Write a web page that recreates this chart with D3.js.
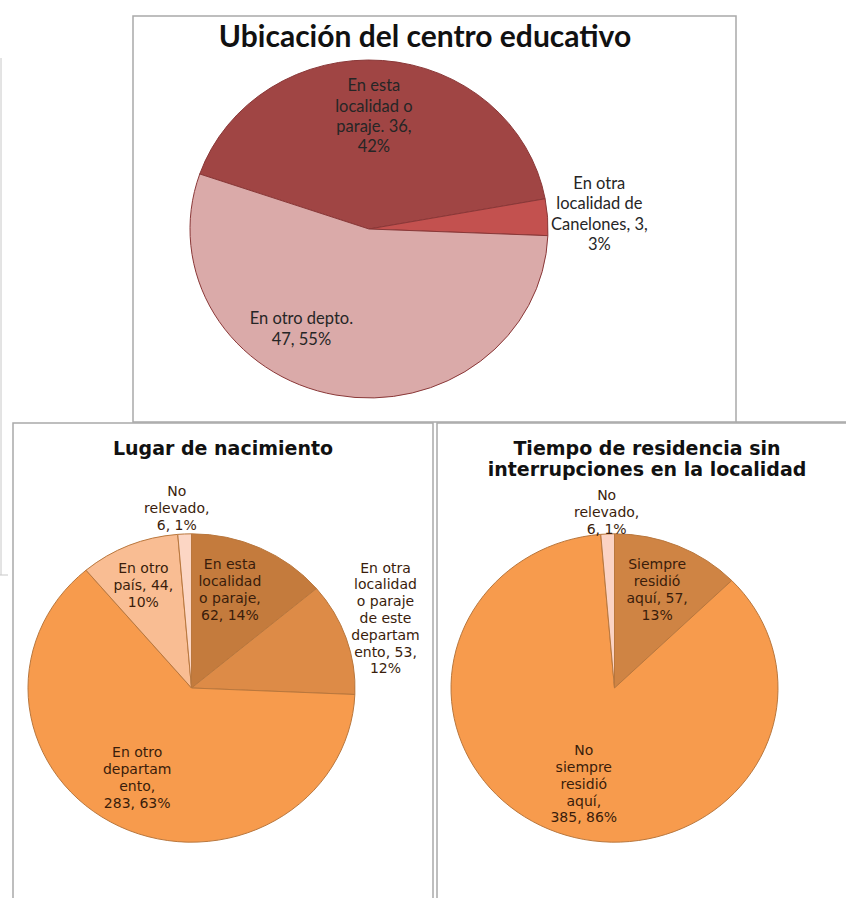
<!DOCTYPE html>
<html>
<head>
<meta charset="utf-8">
<style>
    body { margin: 0; background: #fff; }
    .marco { fill: none; stroke: #a9a9a9; stroke-width: 1.5; }
    .marco_fino { fill: none; stroke: #c8c8c8; stroke-width: 1; }
    .titulo { font-weight: bold; text-anchor: middle; fill: #111; }
    .etiqueta { text-anchor: middle; }
</style>
</head>
<body>
<div id="plateau"></div>
<script src="https://cdn.jsdelivr.net/npm/d3@7/dist/d3.min.js"></script>
<script>

//////////////////// datos ////////////////////
// Ubicación del centro educativo
const ubic_cats = ["En esta localidad o paraje", "En otra localidad de Canelones", "En otro depto."];
const ubic_vals = [36, 3, 47];
const ubic_lineas = [
    ["En esta", "localidad o", "paraje. {v},", "{p}"],
    ["En otra", "localidad de", "Canelones, {v},", "{p}"],
    ["En otro depto.", "{v}, {p}"]
];

// Lugar de nacimiento
const lugar_cats = ["En esta localidad o paraje", "En otra localidad o paraje de este departamento",
    "En otro departamento", "En otro país", "No relevado"];
const lugar_vals = [62, 53, 283, 44, 6];
const lugar_lineas = [
    ["En esta", "localidad", "o paraje,", "{v}, {p}"],
    ["En otra", "localidad", "o paraje", "de este", "departam", "ento, {v},", "{p}"],
    ["En otro", "departam", "ento,", "{v}, {p}"],
    ["En otro", "país, {v},", "{p}"],
    ["No", "relevado,", "{v}, {p}"]
];

// Tiempo de residencia sin interrupciones en la localidad
const tiempo_cats = ["Siempre residió aquí", "No siempre residió aquí", "No relevado"];
const tiempo_vals = [57, 385, 6];
const tiempo_lineas = [
    ["Siempre", "residió", "aquí, {v},", "{p}"],
    ["No", "siempre", "residió", "aquí,", "{v}, {p}"],
    ["No", "relevado,", "{v}, {p}"]
];

//////////////////// página ////////////////////
const W = 846, H = 898;
const svg = d3.select('#plateau').append('svg')
    .attr('width', W)
    .attr('height', H);

// marcos
svg.append('rect').classed('marco', true)
    .attr('x', 133).attr('y', 16).attr('width', 603).attr('height', 406);
svg.append('path').classed('marco', true)
    .attr('d', 'M 736 422 L 850 422');
svg.append('path').classed('marco_fino', true)
    .attr('d', 'M 1 58 L 1 575 M 0 575 L 8 575');
svg.append('rect').classed('marco', true)
    .attr('x', 13).attr('y', 423).attr('width', 420).attr('height', 490);
svg.append('rect').classed('marco', true)
    .attr('x', 437).attr('y', 423).attr('width', 420).attr('height', 490);

const fmtPct = d3.format('.0%');

//////////////////// función torta ////////////////////
function genTorta(cfg) {
    const total = d3.sum(cfg.vals);
    const pie = d3.pie().sort(null).value(d => d)
        .startAngle(cfg.inicio * Math.PI / 180)
        .endAngle(cfg.inicio * Math.PI / 180 + 2 * Math.PI);
    const arc = d3.arc().innerRadius(0).outerRadius(cfg.r);
    const arcs = pie(cfg.vals);

    const g = svg.append('g');

    // titulo
    cfg.titulo.forEach((t, i) => {
        g.append('text').classed('titulo', true)
            .attr('x', cfg.tx)
            .attr('y', cfg.ty + i * cfg.tLinea)
            .style('font-family', cfg.fuente)
            .style('font-size', cfg.tSize + 'px')
            .text(t);
    });

    // porciones (imagen un poco aplastada en vertical)
    g.append('g')
        .attr('transform', `translate(${cfg.cx}, ${cfg.cy}) scale(1, ${cfg.sy})`)
        .selectAll('path')
        .data(arcs)
        .join('path')
        .attr('d', arc)
        .attr('fill', (d, i) => cfg.colores[i])
        .attr('stroke', cfg.borde)
        .attr('stroke-width', 1)
        .attr('vector-effect', 'non-scaling-stroke');

    // etiquetas
    arcs.forEach((d, i) => {
        const a = (d.startAngle + d.endAngle) / 2 + cfg.desvio[i] * Math.PI / 180;
        const k = cfg.radioEtq[i] * cfg.r;
        const x = cfg.cx + k * Math.sin(a);
        const y = cfg.cy - k * Math.cos(a) * cfg.sy;
        const lineas = cfg.lineas[i].map(s => s
            .replace('{v}', cfg.vals[i])
            .replace('{p}', fmtPct(cfg.vals[i] / total)));
        const txt = g.append('text').classed('etiqueta', true)
            .style('font-family', cfg.fuente)
            .style('font-size', cfg.eSize + 'px')
            .attr('fill', cfg.colorEtq);
        lineas.forEach((l, j) => {
            txt.append('tspan')
                .attr('x', x)
                .attr('y', y + (j - (lineas.length - 1) / 2) * cfg.eLinea)
                .attr('dy', '0.35em')
                .text(l);
        });
    });
}

genTorta({
    vals: ubic_vals, lineas: ubic_lineas,
    titulo: ["Ubicación del centro educativo"],
    tx: 425, ty: 47, tLinea: 0, tSize: 30,
    fuente: 'Lato, "Open Sans", sans-serif', eSize: 16.5, eLinea: 20.3,
    cx: 369, cy: 229, r: 179, sy: 0.944, inicio: -71,
    colores: ['#a04544', '#c3514f', '#daaaa9'],
    borde: '#8a3838',
    colorEtq: '#262626',
    radioEtq: [0.67, 1.29, 0.70],
    desvio: [-2, 0, 22]
});

genTorta({
    vals: lugar_vals, lineas: lugar_lineas,
    titulo: ["Lugar de nacimiento"],
    tx: 223, ty: 455, tLinea: 0, tSize: 19,
    fuente: '"DejaVu Sans", Verdana, sans-serif', eSize: 14, eLinea: 16.8,
    cx: 191.5, cy: 688, r: 163.5, sy: 0.943, inicio: 0,
    colores: ['#c47b3d', '#dd8b47', '#f79b4d', '#f9bd93', '#fcd6c4'],
    borde: '#b9773d',
    colorEtq: '#3a1d0b',
    radioEtq: [0.68, 1.27, 0.67, 0.73, 1.17],
    desvio: [-4.7, -2, 3.6, -1.3, -2]
});

genTorta({
    vals: tiempo_vals, lineas: tiempo_lineas,
    titulo: ["Tiempo de residencia sin", "interrupciones en la localidad"],
    tx: 647, ty: 455, tLinea: 20.5, tSize: 19,
    fuente: '"DejaVu Sans", Verdana, sans-serif', eSize: 14, eLinea: 16.8,
    cx: 614.5, cy: 688, r: 163.5, sy: 0.943, inicio: 0,
    colores: ['#cf8444', '#f79b4d', '#fbd3c4'],
    borde: '#b9773d',
    colorEtq: '#3a1d0b',
    radioEtq: [0.69, 0.65, 1.14],
    desvio: [-0.7, -3.7, 0]
});

</script>
</body>
</html>
